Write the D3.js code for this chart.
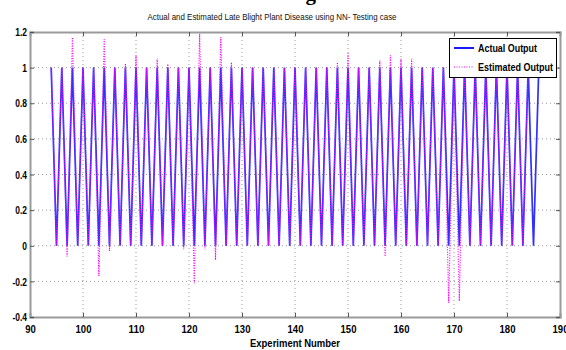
<!DOCTYPE html>
<html>
<head>
<meta charset="utf-8">
<script src="https://cdn.jsdelivr.net/npm/d3@7"></script>
<style>
  html, body { margin: 0; padding: 0; background: #fff; }
  svg { display: block; }
  text { font-family: "Liberation Sans", Arial, sans-serif; }
</style>
</head>
<body>
<svg id="chart" width="566" height="350"></svg>
<script>
const experiments = [94,95,96,97,98,99,100,101,102,103,104,105,106,107,108,109,110,111,112,113,114,115,116,117,118,119,120,121,122,123,124,125,126,127,128,129,130,131,132,133,134,135,136,137,138,139,140,141,142,143,144,145,146,147,148,149,150,151,152,153,154,155,156,157,158,159,160,161,162,163,164,165,166,167,168,169,170,171,172,173,174,175,176,177,178,179,180,181,182,183,184,185,186];
const actualOutput = [1,0,1,0,1,0,1,0,1,0,1,0,1,0,1,0,1,0,1,0,1,0,1,0,1,0,1,0,1,0,1,0,1,0,1,0,1,0,1,0,1,0,1,0,1,0,1,0,1,0,1,0,1,0,1,0,1,0,1,0,1,0,1,0,1,0,1,0,1,0,1,0,1,0,1,0,1,0,1,0,1,0,1,0,1,0,1,0,1,0,1,0,1];
const estimatedOutput = [1,0,1,-0.06,1.17,0,1,0,1,-0.17,1.16,-0.03,1,0,1.02,0,1.07,0,1,0,1.05,0,1.02,0,1,-0.02,1,-0.21,1.19,-0.02,1,-0.08,1.17,0,1.03,0,1,0,1,0,1,0,1,0,1,0,1,0,1,0,1,0,1,0,1.03,0,1.08,0,1,0,1,0,1.04,-0.06,1.07,0,1.05,0,1.05,0,1,0,1,0,1,-0.32,1,-0.31,1,0,1,0,1,0,1,0,1,0,1,0,1];
const xTicks = [90,100,110,120,130,140,150,160,170,180,190];
const yTicks = [-0.4,-0.2,0,0.2,0.4,0.6,0.8,1,1.2];
const yTickLabels = ["-0.4","-0.2","0","0.2","0.4","0.6","0.8","1","1.2"];
const seriesNames = ["Actual Output","Estimated Output"];
const chartTitle = "Actual and Estimated Late Blight Plant Disease using NN- Testing case";
const xLabel = "Experiment Number";
const headerText = "Testing Case";

const svg = d3.select("#chart");
const L = 30, R = 560, T = 32, B = 317;
const x = d3.scaleLinear().domain([90,190]).range([L,R]);
const y = d3.scaleLinear().domain([-0.4,1.2]).range([B,T]);

// narrow-text helper: width estimate for condensed bold digits
function narrowLen(s, digit) {
  let w = 0;
  for (const ch of s) w += (ch === "." ? digit*0.5 : ch === "-" ? digit*0.6 : digit);
  return w;
}

// cut-off header (only its lower edge shows, as in the reference)
svg.append("text").attr("x", 308).attr("y", -0.5).attr("text-anchor","middle")
  .style("font-family","'Liberation Serif', 'Times New Roman', serif")
  .style("font-weight","bold").style("font-size","21px").text(headerText);

// title
svg.append("text").attr("x", 272).attr("y", 19.5).attr("text-anchor","middle")
  .attr("textLength", 249).attr("lengthAdjust","spacingAndGlyphs")
  .style("font-size","9.5px").style("fill","#111").text(chartTitle);

// grid
const grid = svg.append("g");
grid.selectAll("line.gx").data(xTicks.slice(1,-1)).join("line")
  .attr("x1", d=>x(d)).attr("x2", d=>x(d)).attr("y1", T).attr("y2", B)
  .attr("stroke","#999").attr("stroke-width",1).attr("stroke-dasharray","1,3");
grid.selectAll("line.gy").data(yTicks.slice(1,-1)).join("line")
  .attr("x1", L).attr("x2", R).attr("y1", d=>y(d)).attr("y2", d=>y(d))
  .attr("stroke","#999").attr("stroke-width",1).attr("stroke-dasharray","1,3");

// axes with inward ticks
const axB = svg.append("g").attr("transform",`translate(0,${B})`)
  .call(d3.axisBottom(x).tickValues(xTicks).tickSize(-4).tickPadding(8).tickFormat(d3.format("d")));
const axT = svg.append("g").attr("transform",`translate(0,${T})`)
  .call(d3.axisTop(x).tickValues(xTicks).tickSize(-4).tickFormat(""));
const axL = svg.append("g").attr("transform",`translate(${L},0)`)
  .call(d3.axisLeft(y).tickValues(yTicks).tickSize(-4).tickPadding(3).tickFormat((d,i)=>yTickLabels[i]));
const axR = svg.append("g").attr("transform",`translate(${R},0)`)
  .call(d3.axisRight(y).tickValues(yTicks).tickSize(-4).tickFormat(""));
[axB,axT,axL,axR].forEach(a=>{
  a.select(".domain").attr("stroke","#9a9a9a").attr("stroke-width",2);
  a.selectAll(".tick line").attr("stroke","#555").attr("stroke-width",1);
  a.selectAll("text").style("font-size","11.5px").style("font-weight","bold").attr("fill","#000")
    .style("font-family","'Liberation Sans',Arial,sans-serif");
});
axB.selectAll(".tick text").each(function(){
  const t = d3.select(this);
  t.attr("textLength", narrowLen(t.text(), 5.3)).attr("lengthAdjust","spacingAndGlyphs");
});
axL.selectAll(".tick text").each(function(){
  const t = d3.select(this);
  t.attr("textLength", narrowLen(t.text(), 4.7)).attr("lengthAdjust","spacingAndGlyphs");
});

// lines
const line = d3.line().x((d,i)=>x(experiments[i])).y(d=>y(d));
svg.append("path").datum(actualOutput).attr("d", line)
  .attr("fill","none").attr("stroke","#1a1aff").attr("stroke-width",1.7).attr("stroke-opacity",0.9);
svg.append("path").datum(estimatedOutput).attr("d", line)
  .attr("fill","none").attr("stroke","#ff00ff").attr("stroke-width",1.2).attr("stroke-dasharray","1,1.5");

// x label
svg.append("text").attr("x", 295).attr("y", 347).attr("text-anchor","middle")
  .attr("textLength", 90).attr("lengthAdjust","spacingAndGlyphs")
  .style("font-size","11.5px").style("font-weight","bold").text(xLabel);

// legend
const lg = svg.append("g");
lg.append("rect").attr("x",449.5).attr("y",38.5).attr("width",107).attr("height",39)
  .attr("fill","#fff").attr("stroke","#000").attr("stroke-width",1);
const styles = [{c:"#1a1aff",w:2,da:null,len:59},{c:"#ff00ff",w:1.2,da:"1,1.5",len:75}];
seriesNames.forEach((n,i)=>{
  const yy = 48 + i*19;
  lg.append("line").attr("x1",454).attr("x2",474).attr("y1",yy).attr("y2",yy)
    .attr("stroke",styles[i].c).attr("stroke-width",styles[i].w).attr("stroke-dasharray",styles[i].da);
  lg.append("text").attr("x",478).attr("y",yy+4).attr("textLength",styles[i].len)
    .attr("lengthAdjust","spacingAndGlyphs")
    .style("font-size","11px").style("font-weight","bold").text(n);
});
</script>
</body>
</html>
